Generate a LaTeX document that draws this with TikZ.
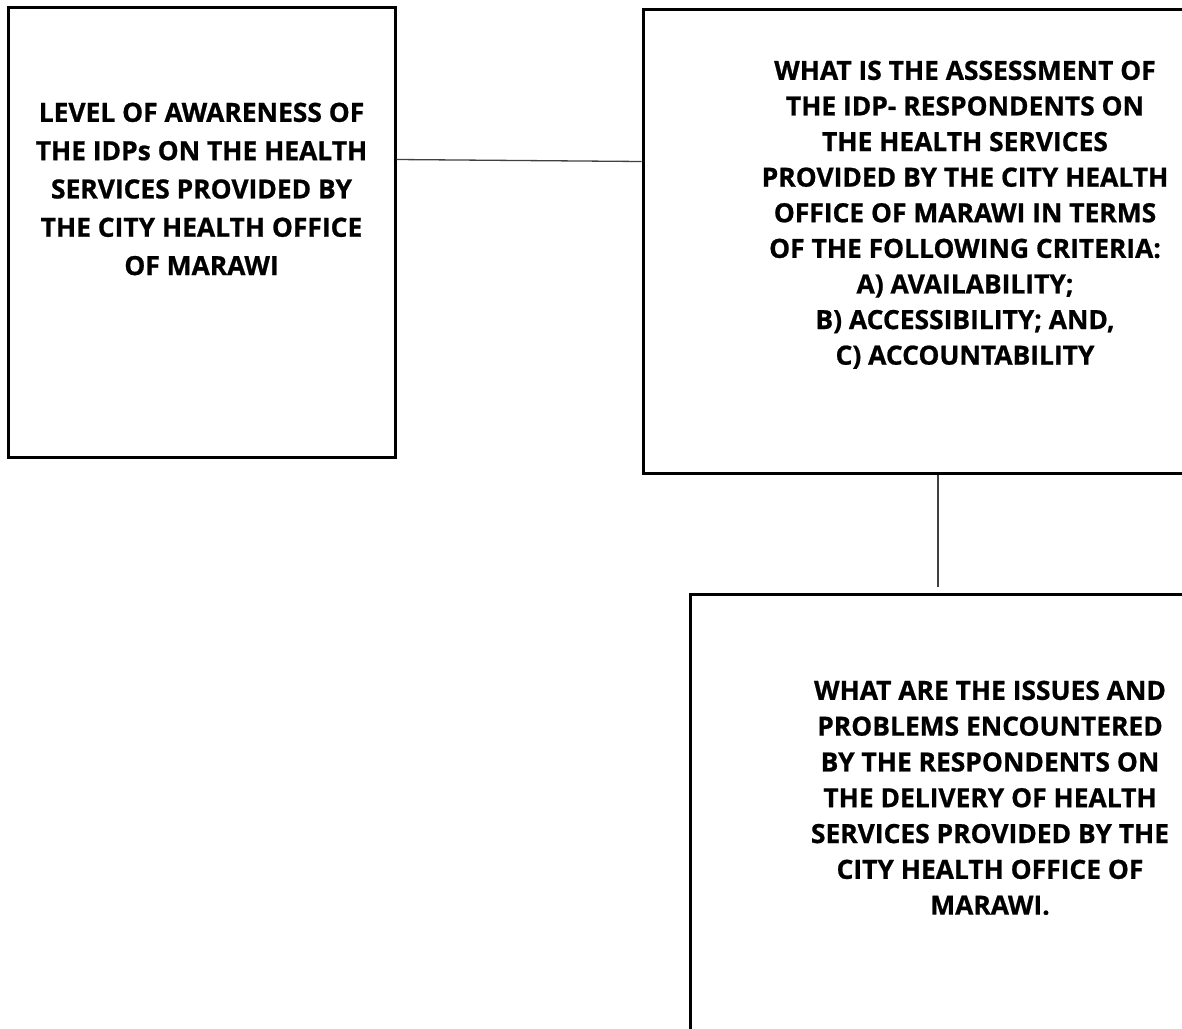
\documentclass[tikz,border=0pt]{standalone}
\usepackage{fontspec}
\setmainfont{Open Sans}[BoldFeatures={FakeBold=0.8}]
\usetikzlibrary{positioning}
\begin{document}
\begin{tikzpicture}[x=1pt, y=-1pt,
	box/.style={draw, line width=3pt, inner sep=0pt},
	txt/.style={align=center, inner sep=0pt, font=\bfseries\fontsize{26.4}{#1}\selectfont},
	link/.style={line width=1.3pt, draw=black!75}]
		\useasboundingbox (0,0) rectangle (1182,1028);
		\clip (0,0) rectangle (1182,1028);
		\node[box, minimum width=387pt, minimum height=450pt] (awareness) at (201.5,232) {};
		\node[box, minimum width=644pt, minimum height=464pt] (assessment) at (965,241) {};
		\node[box, minimum width=600pt, minimum height=540pt] (issues) at (990,864) {};
		\node[txt=38.3, below=97pt of awareness.north] (awarenesstext) {LEVEL OF AWARENESS OF\\THE IDPs ON THE HEALTH\\SERVICES PROVIDED BY\\THE CITY HEALTH OFFICE\\OF MARAWI};
		\node[txt=35.6, below=53pt of assessment.north] (assessmenttext) {WHAT IS THE ASSESSMENT OF\\THE IDP- RESPONDENTS ON\\THE HEALTH SERVICES\\PROVIDED BY THE CITY HEALTH\\OFFICE OF MARAWI IN TERMS\\OF THE FOLLOWING CRITERIA:\\A) AVAILABILITY;\\B) ACCESSIBILITY; AND,\\C) ACCOUNTABILITY};
		\node[txt=35.8, below=88pt of issues.north] (issuestext) {WHAT ARE THE ISSUES AND\\PROBLEMS ENCOUNTERED\\BY THE RESPONDENTS ON\\THE DELIVERY OF HEALTH\\SERVICES PROVIDED BY THE\\CITY HEALTH OFFICE OF\\MARAWI.};
		\draw[link] ([yshift=-154pt]awareness.north east) -- ([yshift=-154pt]assessment.north west);
		\draw[link] ([xshift=-27pt]assessment.south) -- ([xshift=-52pt,yshift=6pt]issues.north);
	\end{tikzpicture}
\end{document}
